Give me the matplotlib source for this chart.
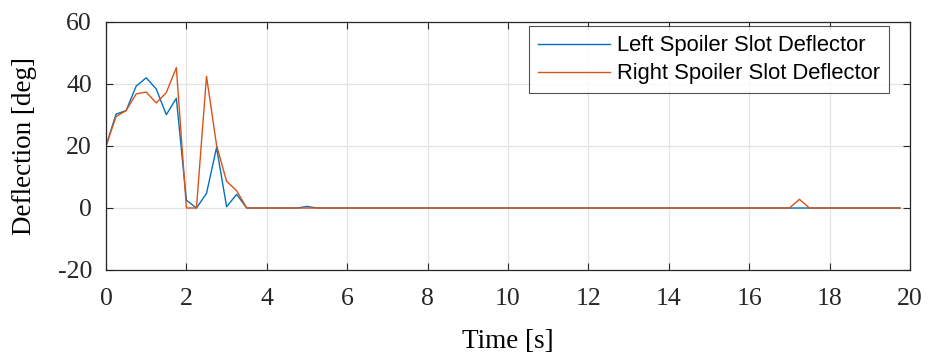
import numpy as np
import matplotlib
matplotlib.use("Agg")
import matplotlib.pyplot as plt

time_s = [0.00, 0.25, 0.50, 0.75, 1.00, 1.25, 1.50, 1.75, 2.00, 2.25,
          2.50, 2.75, 3.00, 3.25, 3.50, 3.75, 4.00, 4.25, 4.50, 4.75,
          5.00, 5.25, 5.50, 5.75, 6.00, 6.25, 6.50, 6.75, 7.00, 7.25,
          7.50, 7.75, 8.00, 8.25, 8.50, 8.75, 9.00, 9.25, 9.50, 9.75,
          10.00, 10.25, 10.50, 10.75, 11.00, 11.25, 11.50, 11.75, 12.00, 12.25,
          12.50, 12.75, 13.00, 13.25, 13.50, 13.75, 14.00, 14.25, 14.50, 14.75,
          15.00, 15.25, 15.50, 15.75, 16.00, 16.25, 16.50, 16.75, 17.00, 17.25,
          17.50, 17.75, 18.00, 18.25, 18.50, 18.75, 19.00, 19.25, 19.50, 19.75]

left_deflector = [20.0, 30.3, 31.4, 39.3, 42.0, 38.4, 30.1, 35.4, 2.5, 0.0,
                  4.7, 19.5, 0.4, 4.4, 0.0, 0.0, 0.0, 0.0, 0.0, 0.0,
                  0.5, 0.0, 0.0, 0.0, 0.0, 0.0, 0.0, 0.0, 0.0, 0.0,
                  0.0, 0.0, 0.0, 0.0, 0.0, 0.0, 0.0, 0.0, 0.0, 0.0,
                  0.0, 0.0, 0.0, 0.0, 0.0, 0.0, 0.0, 0.0, 0.0, 0.0,
                  0.0, 0.0, 0.0, 0.0, 0.0, 0.0, 0.0, 0.0, 0.0, 0.0,
                  0.0, 0.0, 0.0, 0.0, 0.0, 0.0, 0.0, 0.0, 0.0, 0.0,
                  0.0, 0.0, 0.0, 0.0, 0.0, 0.0, 0.0, 0.0, 0.0, 0.0]

right_deflector = [20.0, 29.5, 31.4, 36.8, 37.4, 33.9, 37.2, 45.3, 0.0, 0.0,
                   42.5, 20.3, 8.6, 5.6, 0.0, 0.0, 0.0, 0.0, 0.0, 0.0,
                   0.0, 0.0, 0.0, 0.0, 0.0, 0.0, 0.0, 0.0, 0.0, 0.0,
                   0.0, 0.0, 0.0, 0.0, 0.0, 0.0, 0.0, 0.0, 0.0, 0.0,
                   0.0, 0.0, 0.0, 0.0, 0.0, 0.0, 0.0, 0.0, 0.0, 0.0,
                   0.0, 0.0, 0.0, 0.0, 0.0, 0.0, 0.0, 0.0, 0.0, 0.0,
                   0.0, 0.0, 0.0, 0.0, 0.0, 0.0, 0.0, 0.0, 0.0, 2.8,
                   0.0, 0.0, 0.0, 0.0, 0.0, 0.0, 0.0, 0.0, 0.0, 0.0]

x_ticks = [0, 2, 4, 6, 8, 10, 12, 14, 16, 18, 20]
y_ticks = [-20, 0, 20, 40, 60]
series_labels = ["Left Spoiler Slot Deflector", "Right Spoiler Slot Deflector"]

fig = plt.figure(figsize=(9.3, 3.57), dpi=100)
ax = fig.add_axes([106/930, 1 - 270/357, (910 - 106)/930, (270 - 22)/357])

ax.plot(time_s, left_deflector, color="#0072BD", lw=1.0, label=series_labels[0])
ax.plot(time_s, right_deflector, color="#D95319", lw=1.0, label=series_labels[1])

ax.set_xlim(0, 20)
ax.set_ylim(-20, 60)
ax.set_xticks(x_ticks)
ax.set_yticks(y_ticks)
serif = ["Liberation Serif", "DejaVu Serif"]
ax.set_xticklabels([str(v) for v in x_ticks], family=serif, fontsize=18.5)
ax.set_yticklabels([str(v) for v in y_ticks], family=serif, fontsize=18.5)
ax.set_xlabel("Time [s]", family=serif, fontsize=19.5, labelpad=14)
ax.set_ylabel("Deflection [deg]", family=serif, fontsize=19.5, labelpad=15)

ax.grid(True, color="#e3e3e3", lw=0.9)
ax.set_axisbelow(True)
ax.tick_params(direction="in", length=5, width=0.8, colors="#262626",
               top=True, right=True)
ax.tick_params(axis="x", pad=13)
ax.tick_params(axis="y", pad=10)
for s in ax.spines.values():
    s.set_color("#262626")
    s.set_linewidth(0.9)

leg = ax.legend(loc="upper right", bbox_to_anchor=(889/930, 1 - 26/357),
                bbox_transform=fig.transFigure,
                prop={"family": ["Liberation Sans", "DejaVu Sans"], "size": 15.8},
                frameon=True, fancybox=False, handlelength=3.3, handletextpad=0.3,
                borderpad=0.42, labelspacing=0.32, borderaxespad=0)
leg.get_frame().set_edgecolor("#262626")
leg.get_frame().set_linewidth(0.8)

fig.savefig("out.png", dpi=100)
